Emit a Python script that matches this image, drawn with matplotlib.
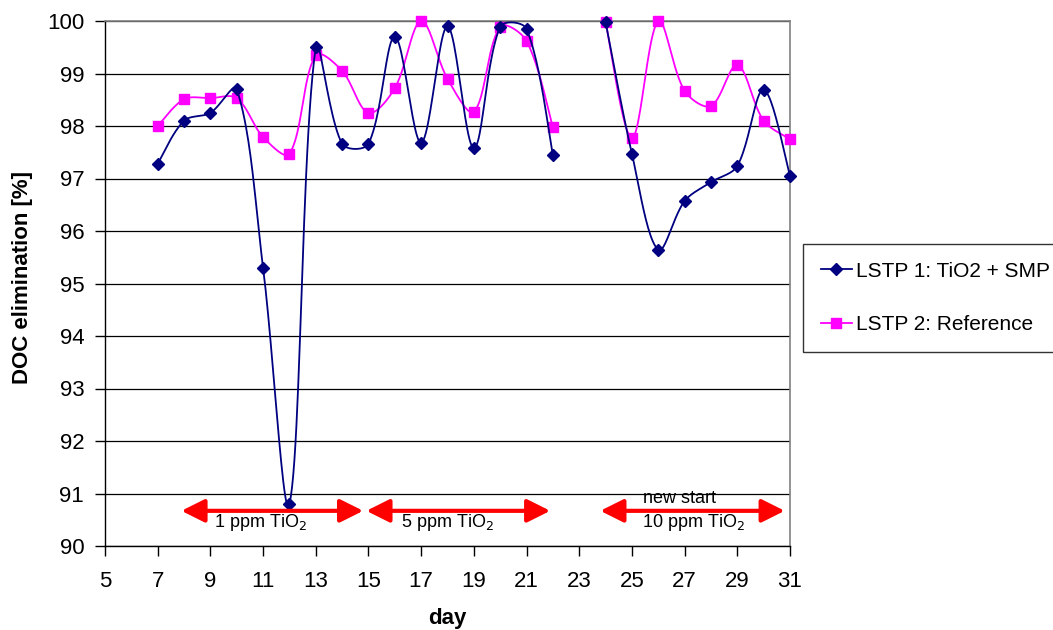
import numpy as np
import matplotlib
matplotlib.use("Agg")
import matplotlib.pyplot as plt
from matplotlib.patches import FancyArrowPatch

plt.rcParams['font.family'] = ['Liberation Sans', 'DejaVu Sans']

days_a = [7, 8, 9, 10, 11, 12, 13, 14, 15, 16, 17, 18, 19, 20, 21, 22]
days_b = [24, 25, 26, 27, 28, 29, 30, 31]

lstp1_a = [97.28, 98.10, 98.25, 98.70, 95.30, 90.80, 99.50, 97.66,
           97.66, 99.70, 97.68, 99.90, 97.58, 99.89, 99.85, 97.45]
lstp1_b = [99.98, 97.47, 95.64, 96.57, 96.93, 97.24, 98.69, 97.05]

lstp2_a = [98.00, 98.51, 98.53, 98.53, 97.79, 97.47, 99.35, 99.05,
           98.25, 98.72, 100.0, 98.90, 98.27, 99.89, 99.62, 97.98]
lstp2_b = [99.98, 97.77, 100.0, 98.67, 98.38, 99.16, 98.10, 97.75]

labels = ['LSTP 1: TiO2 + SMP', 'LSTP 2: Reference']

# dosing periods: (start, end, label)
periods = [(7.9, 14.8, '1 ppm TiO$_2$'),
           (14.92, 21.9, '5 ppm TiO$_2$'),
           (23.8, 30.8, '10 ppm TiO$_2$')]

# pixel scale of the plot area, so smoothing is done in screen space
SX, SY = 685 / 26.0, 525 / 10.0


def smooth(x, y, n=24):
    """Excel-like smoothed line: bezier, tangent parallel to neighbours,
    leg length scaled by the adjacent chord lengths."""
    p = np.column_stack([np.asarray(x, float) * SX, np.asarray(y, float) * SY])
    m = len(p)
    legs_out = np.zeros_like(p)
    legs_in = np.zeros_like(p)
    for i in range(m):
        prv = p[i - 1] if i > 0 else p[i]
        nxt = p[i + 1] if i < m - 1 else p[i]
        tang = (nxt - prv) / 6.0
        d0 = np.hypot(*(p[i] - prv))
        d1 = np.hypot(*(nxt - p[i]))
        if i == 0 or i == m - 1 or d0 + d1 == 0:
            legs_out[i] = tang
            legs_in[i] = tang
        else:
            legs_out[i] = tang * 2 * d1 / (d0 + d1)
            legs_in[i] = tang * 2 * d0 / (d0 + d1)
    pts = []
    t = np.linspace(0, 1, n, endpoint=False)[:, None]
    for i in range(m - 1):
        c1 = p[i] + legs_out[i]
        c2 = p[i + 1] - legs_in[i + 1]
        seg = ((1 - t)**3 * p[i] + 3 * (1 - t)**2 * t * c1
               + 3 * (1 - t) * t**2 * c2 + t**3 * p[i + 1])
        pts.append(seg)
    pts.append(p[-1:])
    s = np.vstack(pts)
    return np.column_stack([s[:, 0] / SX, s[:, 1] / SY])


def joined(xa, ya, xb, yb, n=24):
    sa = smooth(xa, ya, n)
    sb = smooth(xb, yb, n)
    gap = np.array([[np.nan, np.nan]])
    s = np.vstack([sa, gap, sb])
    marks = [i * n for i in range(len(xa))]
    off = len(sa) + 1
    marks += [off + i * n for i in range(len(xb))]
    return s[:, 0], s[:, 1], marks


fig = plt.figure(figsize=(10.53, 6.3), dpi=100)
ax = fig.add_axes([105 / 1053, 1 - 546 / 630, 685 / 1053, 525 / 630])

x1, y1, m1 = joined(days_a, lstp1_a, days_b, lstp1_b)
x2, y2, m2 = joined(days_a, lstp2_a, days_b, lstp2_b)

ax.plot(x1, y1, color='#000080', lw=1.3, marker='D', ms=6,
        markevery=m1, label=labels[0], clip_on=False, zorder=4)
ax.plot(x2, y2, color='#FF00FF', lw=1.3, marker='s', ms=6.5,
        markevery=m2, label=labels[1], clip_on=False, zorder=3)

# dosing arrows
arrow_y = 90.67
for start, end, txt in periods:
    arr = FancyArrowPatch((start, arrow_y), (end, arrow_y),
                          arrowstyle='<|-|>,head_length=1.0,head_width=0.5',
                          mutation_scale=14, color='#FF0000', lw=3,
                          shrinkA=0, shrinkB=0, zorder=5)
    ax.add_patch(arr)
ax.text(10.9, 90.44, periods[0][2], ha='center', va='center', fontsize=13)
ax.text(18.0, 90.44, periods[1][2], ha='center', va='center', fontsize=13)
ax.text(27.35, 90.44, periods[2][2], ha='center', va='center', fontsize=13)
ax.text(26.8, 90.9, 'new start', ha='center', va='center', fontsize=13)

ax.set_xlim(5, 31)
ax.set_ylim(90, 100)
ax.set_xticks(np.arange(5, 32, 2))
ax.set_yticks(np.arange(90, 101, 1))
ax.grid(axis='y', color='black', lw=0.9)
ax.set_axisbelow(True)
ax.tick_params(axis='both', direction='out', length=7, width=1,
               labelsize=16, color='black')
ax.tick_params(axis='x', pad=11)
ax.tick_params(axis='y', pad=8)
for side in ['left', 'bottom']:
    ax.spines[side].set_color('black')
    ax.spines[side].set_linewidth(1)
for side in ['top', 'right']:
    ax.spines[side].set_color('#808080')
    ax.spines[side].set_linewidth(1.2)

ax.set_xlabel('day', fontsize=16, fontweight='bold', va='top')
ax.xaxis.set_label_coords(0.5, -0.118)
ax.set_ylabel('DOC elimination [%]', fontsize=16, fontweight='bold',
              va='center')
ax.yaxis.set_label_coords(-0.12, 0.512)

leg = fig.legend(loc='upper left', bbox_to_anchor=(803 / 1053, 1 - 244 / 630),
                 bbox_transform=fig.transFigure, fontsize=15,
                 frameon=True, fancybox=False, edgecolor='black',
                 handlelength=1.5, handletextpad=0.2, labelspacing=1.65,
                 borderpad=0.85, borderaxespad=0)
leg.get_frame().set_linewidth(1)

fig.savefig('out.png', dpi=100)
